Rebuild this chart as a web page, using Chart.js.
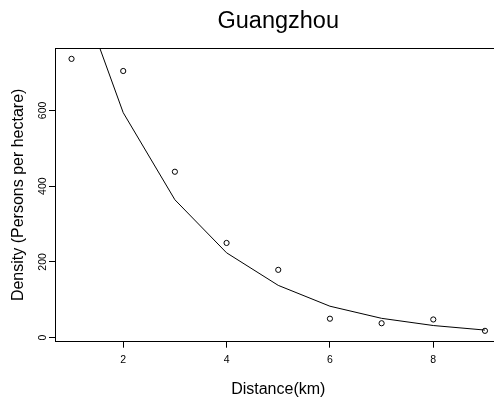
<!DOCTYPE html>
<html>
<head>
<meta charset="utf-8">
<title>Guangzhou</title>
<script src="https://cdn.jsdelivr.net/npm/chart.js@4/dist/chart.umd.min.js"></script>
<style>
  html, body { margin: 0; padding: 0; background: #fff; overflow: hidden; }
  #wrap { width: 494px; height: 401px; overflow: hidden; }
</style>
</head>
<body>
<div id="wrap">
  <canvas id="density-chart" width="520" height="401"></canvas>
</div>
<script>
// Distance from the centre (km)
const distanceKm = [1, 2, 3, 4, 5, 6, 7, 8, 9];
// Observed density, persons per hectare
const observedDensity = [736, 704, 438, 250, 179, 50, 38, 48, 18];
// Fitted exponential decay curve
const fittedDensity = [970, 594, 364, 224, 138, 83, 51, 32, 20];

const xTicks = [2, 4, 6, 8];
const yTicks = [0, 200, 400, 600];

// axis limits, padded 4% past the data like R does
const xRange = [0.68, 9.32];
const yRange = [-10.7, 764.7];

const FONT = "'Liberation Sans', Arial, Helvetica, sans-serif";

// top and right sides of the box (left and bottom come from the axes)
const framePlugin = {
    id: 'frame',
    afterDatasetsDraw(chart) {
        const { ctx, chartArea: a } = chart;
        const top = Math.round(a.top) + 0.5;
        const right = Math.round(a.right) + 0.5;
        ctx.save();
        ctx.strokeStyle = '#000';
        ctx.lineWidth = 1;
        ctx.beginPath();
        ctx.moveTo(a.left, top);
        ctx.lineTo(right, top);
        ctx.lineTo(right, a.bottom);
        ctx.stroke();
        ctx.restore();
    }
};

const toPoints = (ys) => distanceKm.map((x, i) => ({ x: x, y: ys[i] }));

const ctx = document.getElementById('density-chart').getContext('2d');
new Chart(ctx, {
    type: 'scatter',
    data: {
        datasets: [{
            label: 'Observed',
            data: toPoints(observedDensity),
            showLine: false,
            pointStyle: 'circle',
            pointRadius: 2.6,
            pointBorderWidth: 1,
            pointBorderColor: '#000',
            pointBackgroundColor: 'rgba(0,0,0,0)'
        }, {
            label: 'Fitted',
            type: 'line',
            data: toPoints(fittedDensity),
            borderColor: '#000',
            borderWidth: 1,
            tension: 0,
            fill: false,
            pointRadius: 0
        }]
    },
    options: {
        responsive: false,
        animation: false,
        events: [],
        layout: {
            padding: { top: 0, left: 0, right: 18.5, bottom: 0 }
        },
        plugins: {
            legend: { display: false },
            tooltip: { enabled: false },
            title: {
                display: true,
                text: 'Guangzhou',
                fullSize: false,
                color: '#000',
                font: { family: FONT, size: 23.5, weight: 'normal' },
                padding: { top: 7, bottom: 12.8 }
            }
        },
        scales: {
            x: {
                type: 'linear',
                min: xRange[0],
                max: xRange[1],
                afterBuildTicks: (scale) => {
                    scale.ticks = xTicks.map(v => ({ value: v }));
                },
                afterFit: (scale) => { scale.height = 59.3; },
                border: { display: true, color: '#000', width: 1 },
                grid: {
                    drawOnChartArea: false,
                    drawTicks: true,
                    tickLength: 6,
                    color: '#000',
                    lineWidth: 1
                },
                ticks: {
                    color: '#000',
                    padding: 6,
                    maxRotation: 0,
                    font: { family: FONT, size: 10.5 }
                },
                title: {
                    display: true,
                    text: 'Distance(km)',
                    color: '#000',
                    font: { family: FONT, size: 16 },
                    padding: { top: 0, bottom: 2 }
                }
            },
            y: {
                type: 'linear',
                min: yRange[0],
                max: yRange[1],
                afterBuildTicks: (scale) => {
                    scale.ticks = yTicks.map(v => ({ value: v }));
                },
                afterFit: (scale) => { scale.width = 55; },
                border: { display: true, color: '#000', width: 1 },
                grid: {
                    drawOnChartArea: false,
                    drawTicks: true,
                    tickLength: 6,
                    color: '#000',
                    lineWidth: 1
                },
                ticks: {
                    color: '#000',
                    padding: -3,
                    minRotation: 90,
                    maxRotation: 90,
                    crossAlign: 'center',
                    font: { family: FONT, size: 10.5 }
                },
                title: {
                    display: true,
                    text: 'Density (Persons per hectare)',
                    color: '#000',
                    font: { family: FONT, size: 16 },
                    padding: { top: 8.8, bottom: 0 }
                }
            }
        }
    },
    plugins: [framePlugin]
});
</script>
</body>
</html>
